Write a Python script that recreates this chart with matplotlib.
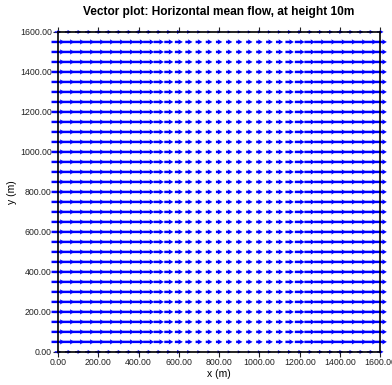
import numpy as np
import matplotlib
matplotlib.use('Agg')
import matplotlib.pyplot as plt

# grid positions (m), 50 m spacing
x_pos = [0, 50, 100, 150, 200, 250, 300, 350, 400, 450, 500, 550, 600, 650, 700, 750, 800,
         850, 900, 950, 1000, 1050, 1100, 1150, 1200, 1250, 1300, 1350, 1400, 1450, 1500, 1550, 1600]
y_pos = list(x_pos)

# mean horizontal speed per column (m/s)
u_col = [1.30, 1.28, 1.26, 1.25, 1.24, 1.22, 1.20, 1.18, 1.15, 1.10, 1.02, 0.90, 0.80, 0.72, 0.68, 0.66, 0.64,
         0.63, 0.63, 0.64, 0.65, 0.68, 0.72, 0.84, 0.98, 1.08, 1.15, 1.20, 1.24, 1.26, 1.28, 1.30, 1.32]
# relative factor per row (edge rows weaker)
row_fac = [0.5] + [1.0] * 31 + [0.5]

plt.rcParams['font.family'] = ['Liberation Sans', 'DejaVu Sans']

X, Y = np.meshgrid(x_pos, y_pos)
U = np.array(row_fac)[:, None] * np.array(u_col)[None, :]
V = np.zeros_like(U)

fig = plt.figure(figsize=(3.92, 3.85), dpi=100)
ax = fig.add_axes([0.148, 0.086, 0.822, 0.831])

# arrow length in axes-width units: 1.3 m/s -> ~13 px of 323 px
scale = 1.3 * 323 / 13
inner = slice(1, -1)
q = ax.quiver(X[inner], Y[inner], U[inner], V[inner], color='#0000ff', pivot='mid', scale=scale,
              scale_units='width', units='width', width=0.0075, headwidth=2.2, headlength=1.9,
              headaxislength=1.7, zorder=2)
q.set_clip_on(False)
edge = [0, -1]
q2 = ax.quiver(X[edge], Y[edge], U[edge], V[edge], color='#0000ff', pivot='mid', scale=scale,
               scale_units='width', units='width', width=0.004, headwidth=3.2, headlength=3.0,
               headaxislength=2.7, zorder=2)
q2.set_clip_on(False)

ax.set_xlim(0, 1600)
ax.set_ylim(0, 1600)
ticks = [0, 200, 400, 600, 800, 1000, 1200, 1400, 1600]
ax.set_xticks(ticks)
ax.set_yticks(ticks)
ax.set_xticklabels(['%.2f' % t for t in ticks])
ax.set_yticklabels(['%.2f' % t for t in ticks])
ax.tick_params(axis='both', labelsize=6.3, colors='#222222', length=3.5, width=0.8, direction='out', pad=1)
ax.tick_params(axis='x', top=True, labeltop=False)
for s in ax.spines.values():
    s.set_linewidth(1.2)
    s.set_zorder(3)

ax.set_xlabel('x (m)', fontsize=7.5, labelpad=1.5)
ax.set_ylabel('y (m)', fontsize=7.5, labelpad=2)
ax.set_title('Vector plot: Horizontal mean flow, at height 10m', fontsize=8.6, fontweight='bold', pad=12)

fig.savefig('out.png', dpi=100)
